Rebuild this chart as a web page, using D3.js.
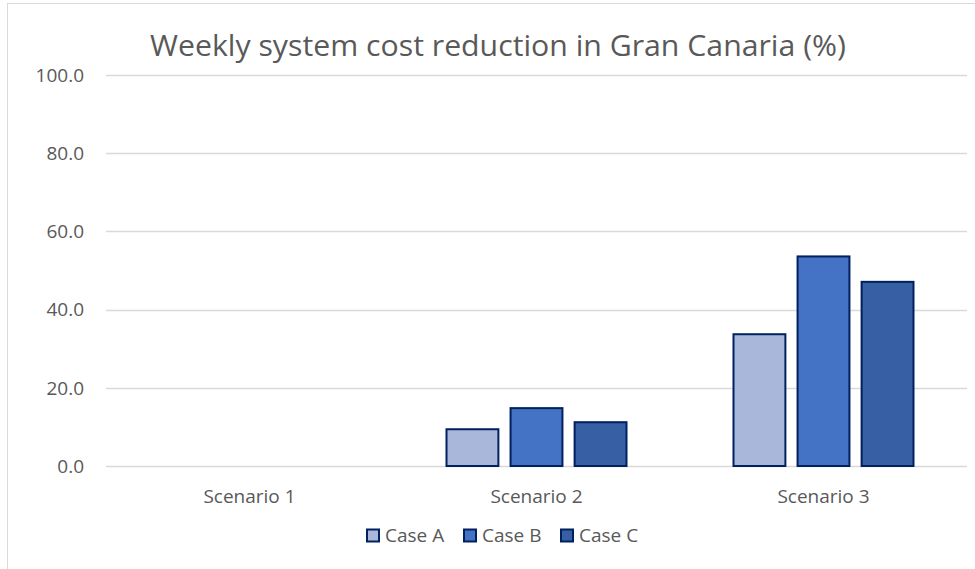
<!DOCTYPE html>
<html>
<head>
<meta charset="utf-8">
<script src="https://cdn.jsdelivr.net/npm/d3@7"></script>
<style>
body{margin:0;background:#fff;}
text{font-family:"Open Sans","Noto Sans",sans-serif;fill:#595959;}
</style>
</head>
<body>
<script>
//Chart data
var scenarios = ["Scenario 1","Scenario 2","Scenario 3"];
var cases = ["Case A","Case B","Case C"];
var caseA = [0,9.4,33.7];
var caseB = [0,14.8,53.6];
var caseC = [0,11.2,47.1];
var yTicks = [0,20,40,60,80,100];
var colors = ["#a9b7da","#4472c4","#375fa3"];

var series = [caseA,caseB,caseC];
var W = 975, H = 569;
var margin = {top: 75,right: 8,bottom: 103,left: 106};

var svg = d3.select("body").append("svg")
    .attr("width",W)
    .attr("height",H);

//Outer chart border
svg.append("rect")
    .attr("x",7.5).attr("y",3.5)
    .attr("width",W).attr("height",H)
    .attr("fill","none")
    .attr("stroke","#d9d9d9");

var x = d3.scaleBand()
    .domain(scenarios)
    .range([margin.left,W - margin.right])
    .paddingInner(0).paddingOuter(0);

var y = d3.scaleLinear()
    .domain([0,100])
    .range([H - margin.bottom,margin.top]);

var xInner = d3.scaleBand()
    .domain(cases)
    .range([0,180])
    .paddingInner(0.19);

//Gridlines
svg.append("g")
    .selectAll("line")
    .data(yTicks)
    .enter().append("line")
    .attr("x1",margin.left).attr("x2",W - margin.right)
    .attr("y1",function(d){return Math.round(y(d)) + 0.5;})
    .attr("y2",function(d){return Math.round(y(d)) + 0.5;})
    .attr("stroke","#d9d9d9")
    .attr("stroke-width",1.5);

//Y tick labels
svg.append("g")
    .selectAll("text")
    .data(yTicks)
    .enter().append("text")
    .attr("x",84)
    .attr("y",function(d){return y(d);})
    .attr("dy","0.36em")
    .attr("text-anchor","end")
    .style("font-size","19px")
    .text(function(d){return d3.format(".1f")(d);});

//X labels
svg.append("g")
    .selectAll("text")
    .data(scenarios)
    .enter().append("text")
    .attr("x",function(d){return x(d) + x.bandwidth()/2;})
    .attr("y",503)
    .attr("text-anchor","middle")
    .style("font-size","19px")
    .text(function(d){return d;});

//Bars
var groups = svg.append("g")
    .selectAll("g")
    .data(scenarios)
    .enter().append("g")
    .attr("transform",function(d){return "translate(" + (x(d) + (x.bandwidth() - 180)/2) + ",0)";});

groups.selectAll("rect")
    .data(function(d,i){
        return cases.map(function(c,j){return {c: c,v: series[j][i],j: j};});
    })
    .enter().append("rect")
    .filter(function(d){return d.v > 0;})
    .attr("x",function(d){return xInner(d.c);})
    .attr("y",function(d){return y(d.v);})
    .attr("width",xInner.bandwidth())
    .attr("height",function(d){return y(0) - y(d.v);})
    .attr("fill",function(d){return colors[d.j];})
    .attr("stroke","#002060")
    .attr("stroke-width",2);

//Title
svg.append("text")
    .attr("x",498)
    .attr("y",56)
    .attr("text-anchor","middle")
    .attr("textLength",696)
    .attr("lengthAdjust","spacingAndGlyphs")
    .style("font-size","30px")
    .text("Weekly system cost reduction in Gran Canaria (%)");

//Legend
var legendX = [367,464,561];
var legend = svg.append("g")
    .selectAll("g")
    .data(cases)
    .enter().append("g")
    .attr("transform",function(d,i){return "translate(" + legendX[i] + ",535.5)";});

legend.append("rect")
    .attr("x",0).attr("y",-6)
    .attr("width",12).attr("height",12)
    .attr("fill",function(d,i){return colors[i];})
    .attr("stroke","#002060")
    .attr("stroke-width",2);

legend.append("text")
    .attr("x",18)
    .attr("dy","0.36em")
    .style("font-size","19px")
    .text(function(d){return d;});
</script>
</body>
</html>
